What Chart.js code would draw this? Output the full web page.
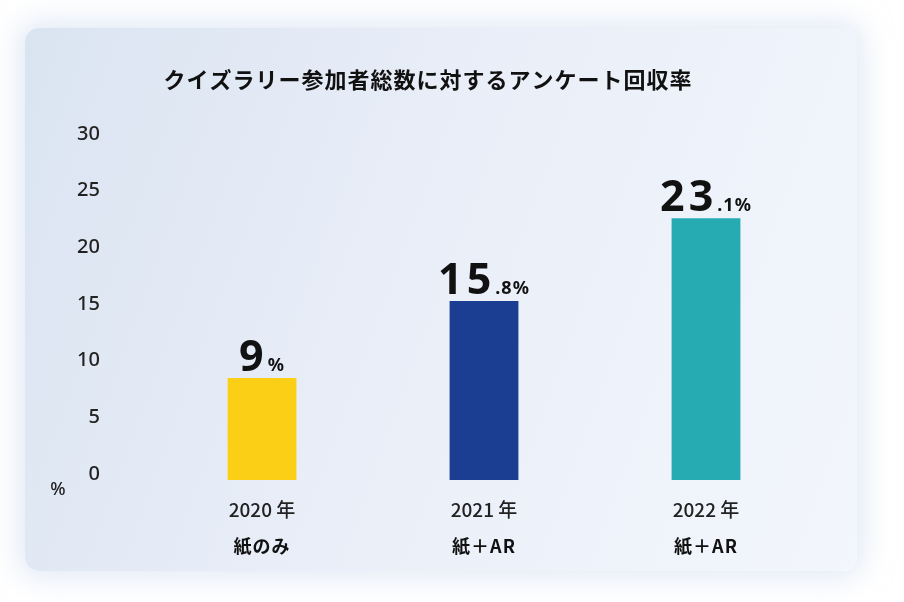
<!DOCTYPE html>
<html>
<head>
<meta charset="utf-8">
<script src="https://cdn.jsdelivr.net/npm/chart.js@4"></script>
<style>
  body { margin: 0; background: #fff; }
  #card {
    position: absolute; left: 25px; top: 28px; width: 832px; height: 543px;
    border-radius: 14px;
    background: linear-gradient(110deg, #dae4f1 0%, #e9eef8 45%, #f3f6fc 100%);
    box-shadow: 0 0 28px 8px rgba(205, 218, 238, 0.55);
  }
  #wrap { position: absolute; left: 0; top: 0; width: 904px; height: 602px; }
</style>
</head>
<body>
<div id="card"></div>
<div id="wrap"><canvas id="js--chart"></canvas></div>
<script>
// data
const years = ["2020 年", "2021 年", "2022 年"];
const methods = ["紙のみ", "紙＋AR", "紙＋AR"];
const rates = [9, 15.8, 23.1];
const rateText = [["9", "%"], ["15", ".8%"], ["23", ".1%"]];
const yTicks = [0, 5, 10, 15, 20, 25, 30];
const barColors = ["#fccf17", "#1b3e93", "#26abb2"];

const title = "クイズラリー参加者総数に対するアンケート回収率";
const jp = '"Noto Sans CJK JP", "Noto Sans", sans-serif';
const num = '"Noto Sans", "Open Sans", sans-serif';

// titel, eenheid, waardes boven de balken en tweede regel onder de as
const extras = {
    id: "extras",
    afterDraw(chart) {
        const ctx = chart.ctx;
        const x = chart.scales.x;
        ctx.save();
        ctx.fillStyle = "#111";
        ctx.textAlign = "center";
        ctx.textBaseline = "middle";
        ctx.font = "bold 22px " + jp;
        ctx.letterSpacing = "1px";
        ctx.fillText(title, 428, 80);
        ctx.letterSpacing = "0px";

        ctx.font = "500 18px " + num;
        ctx.fillStyle = "#222";
        ctx.fillText("%", 58, 490);

        // tweede regel
        ctx.font = "bold 18px " + jp;
        ctx.fillStyle = "#111";
        ctx.letterSpacing = "1px";
        methods.forEach((m, i) => {
            ctx.fillText(m, x.getPixelForValue(i), 546);
        });

        // waardes
        const meta = chart.getDatasetMeta(0);
        meta.data.forEach((bar, i) => {
            const big = rateText[i][0];
            const small = rateText[i][1];
            ctx.letterSpacing = "4px";
            ctx.font = "bold 43px " + num;
            const wBig = ctx.measureText(big).width;
            ctx.letterSpacing = "1px";
            ctx.font = "bold 18px " + num;
            const wSmall = ctx.measureText(small).width;
            const start = bar.x - (wBig + wSmall) / 2;
            const base = bar.y - 7;
            ctx.textAlign = "left";
            ctx.textBaseline = "alphabetic";
            ctx.fillStyle = "#111";
            ctx.letterSpacing = "4px";
            ctx.font = "bold 43px " + num;
            ctx.fillText(big, start, base);
            ctx.letterSpacing = "1px";
            ctx.font = "bold 18px " + num;
            ctx.fillText(small, start + wBig, base);
        });
        ctx.restore();
    }
};

const data = {
    labels: years,
    datasets: [
        {
            data: rates,
            backgroundColor: barColors,
            borderWidth: 0,
            categoryPercentage: 1,
            barPercentage: 0.31
        }
    ]
};

const config = {
    type: "bar",
    data: data,
    options: {
        responsive: false,
        animation: false,
        layout: { padding: { left: 75, right: 87, top: 140, bottom: 0 } },
        plugins: {
            legend: { display: false },
            tooltip: { enabled: false }
        },
        scales: {
            x: {
                offset: true,
                grid: { display: false, drawTicks: false },
                border: { display: false },
                ticks: {
                    color: "#222",
                    font: { family: jp, size: 19, weight: "500" },
                    padding: 18
                },
                afterFit: s => { s.height = 122; }
            },
            y: {
                min: 0,
                max: 30,
                grid: { display: false, drawTicks: false },
                border: { display: false },
                afterBuildTicks: s => { s.ticks = yTicks.map(v => ({ value: v })); },
                ticks: {
                    color: "#222",
                    font: { family: num, size: 20, weight: "500" },
                    padding: 51,
                    labelOffset: -6
                },
                afterFit: s => { s.width = 76; }
            }
        }
    },
    plugins: [extras]
};

const cv = document.getElementById("js--chart");
cv.width = 904;
cv.height = 602;
new Chart(cv, config);
</script>
</body>
</html>
